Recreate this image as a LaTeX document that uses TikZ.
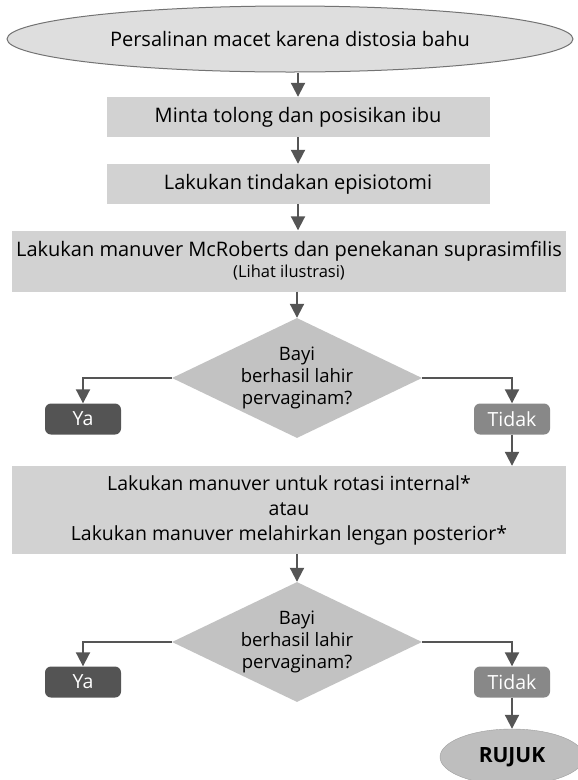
\documentclass[tikz,border=0pt]{standalone}
\usepackage{fontspec}
\setmainfont{Open Sans}
\usetikzlibrary{arrows.meta, positioning, shapes.geometric, calc}
\definecolor{startgray}{RGB}{222,222,222}
\definecolor{edgegray}{RGB}{115,115,115}
\definecolor{boxgray}{RGB}{210,210,210}
\definecolor{askgray}{RGB}{194,194,194}
\definecolor{yesgray}{RGB}{84,84,84}
\definecolor{nogray}{RGB}{136,136,136}
\definecolor{refergray}{RGB}{190,190,190}
\definecolor{arrowgray}{RGB}{85,85,85}

\begin{document}
\begin{tikzpicture}[x=1pt, y=-1pt,
  every node/.style={font=\fontsize{20}{25}\selectfont, inner sep=0pt},
  startnode/.style={draw=edgegray, line width=1pt, ellipse, fill=startgray},
  stepbox/.style={fill=boxgray, minimum height=40pt, align=center},
  decision/.style={diamond, fill=askgray, aspect=2.08, minimum width=250pt, minimum height=120pt,
    align=center, font=\fontsize{18.5}{22}\selectfont},
  yesbox/.style={fill=yesgray, text=white, rounded corners=6pt, minimum width=76pt, minimum height=31pt,
    font=\fontsize{19.5}{22}\selectfont},
  nobox/.style={fill=nogray, text=white, rounded corners=6pt, minimum width=76pt, minimum height=31pt,
    font=\fontsize{19.5}{22}\selectfont},
  refer/.style={draw=edgegray!70, ellipse, fill=refergray, minimum width=144pt, minimum height=56pt,
    font=\fontsize{21}{24}\selectfont\bfseries},
  flow/.style={-{Triangle[width=14pt, length=14pt]}, line width=2pt, draw=arrowgray}]
\useasboundingbox (0,0) rectangle (578,780);

\node[startnode, minimum width=566pt, minimum height=66pt] (start) at (290,39) {Persalinan macet karena distosia bahu};
\node[stepbox, minimum width=383pt] (help) at (298,117) {Minta tolong dan posisikan ibu};
\node[stepbox, minimum width=383pt] (episio) at (298,184) {Lakukan tindakan episiotomi};
\node[stepbox, minimum width=554pt, minimum height=61pt] (mcrob) at (289,261)
  {Lakukan manuver McRoberts dan penekanan suprasimfilis\\[-4pt]{\fontsize{16.5}{19}\selectfont (Lihat ilustrasi)}};
\node[decision] (born1) at (297,378) {Bayi\\berhasil lahir\\pervaginam?};
\node[yesbox] (ya1) at (83,419) {Ya};
\node[nobox] (tidak1) at (512,419) {Tidak};
\node[stepbox, minimum width=554pt, minimum height=88pt, font=\fontsize{19.5}{25}\selectfont] (rotasi) at (289,510)
  {Lakukan manuver untuk rotasi internal*\\atau\\Lakukan manuver melahirkan lengan posterior*};
\node[decision] (born2) at (297,642) {Bayi\\berhasil lahir\\pervaginam?};
\node[yesbox] (ya2) at (83,682) {Ya};
\node[nobox] (tidak2) at (512,682) {Tidak};
\node[refer] (rujuk) at (512,757) {RUJUK};

% main line
\draw[flow] (help.north |- start.south) -- (help.north);
\draw[flow] (help) -- (episio);
\draw[flow] (episio.south) -- (episio.south |- mcrob.north);
\draw[flow] (mcrob.south -| born1.north) -- (born1.north);
% first check
\draw[flow] (born1.west) -| (ya1.north);
\draw[flow] (born1.east) -| (tidak1.north);
\draw[flow] (tidak1.south) -- (tidak1.south |- rotasi.north);
\draw[flow] (rotasi.south -| born2.north) -- (born2.north);
% second check
\draw[flow] (born2.west) -| (ya2.north);
\draw[flow] (born2.east) -| (tidak2.north);
\draw[flow] (tidak2) -- (rujuk);
\end{tikzpicture}
\end{document}
